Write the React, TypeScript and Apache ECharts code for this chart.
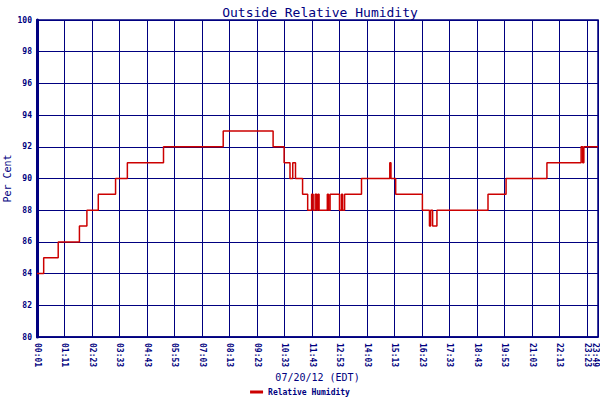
import React, { useEffect, useRef } from "react";
import * as echarts from "echarts";

// Step changes in relative humidity (time of change, new value in %)
const stepTimes = [
  "00:01", "00:18", "00:55", "01:49", "02:08", "02:37", "03:21", "03:51", "05:23", "07:55",
  "10:02", "10:30", "10:45", "10:52", "10:59", "11:17", "11:30", "11:40", "11:44", "11:49",
  "11:53", "11:56", "11:59", "12:20", "12:23", "12:27", "12:51", "12:56", "12:59", "13:04",
  "13:47", "14:59", "15:02", "15:14", "16:22", "16:40", "16:43", "16:48", "16:59", "19:09",
  "19:55", "21:39", "23:06", "23:10", "23:13", "23:49",
];
const humidity = [
  84, 85, 86, 87, 88, 89, 90, 91, 92, 93,
  92, 91, 90, 91, 90, 89, 88, 89, 88, 89,
  88, 89, 88, 89, 88, 89, 88, 89, 88, 89,
  90, 91, 90, 89, 88, 87, 88, 87, 88, 89,
  90, 91, 92, 91, 92, 92,
];
const xTickLabels = [
  "00:01", "01:11", "02:23", "03:33", "04:43", "05:53", "07:03", "08:13", "09:23", "10:33",
  "11:43", "12:53", "14:03", "15:13", "16:23", "17:33", "18:43", "19:53", "21:03", "22:13",
  "23:23", "23:49",
];
const yTicks = { min: 80, max: 100, step: 2 };

const NAVY = "#000080";
const MONO = "'DejaVu Sans Mono', 'Liberation Mono', monospace";

const toOffset = (t: string) => {
  const [h, m] = t.split(":").map(Number);
  return h * 60 + m - 1; // minutes since 00:01
};

export default function App() {
  const ref = useRef<HTMLDivElement>(null);
  useEffect(() => {
    if (!ref.current) return;
    const chart = echarts.init(ref.current, null, { renderer: "svg" });
    const maxOffset = toOffset(xTickLabels[xTickLabels.length - 1]);
    const data = stepTimes.map((t, i) => [toOffset(t), humidity[i]]);
    const labelFont = {
      color: NAVY,
      fontFamily: MONO,
      fontSize: 8,
      fontWeight: "bold",
    };
    chart.setOption({
      animation: false,
      backgroundColor: "#ffffff",
      title: {
        text: "Outside Relative Humidity",
        left: 315,
        textAlign: "center",
        top: 1,
        textStyle: { color: NAVY, fontFamily: MONO, fontSize: 13, fontWeight: "normal" },
      },
      grid: {
        left: 37,
        right: 2,
        top: 20,
        bottom: 63,
        outerBoundsMode: "none",
        containLabel: false,
        show: true,
        borderColor: NAVY,
        borderWidth: 1.5,
        backgroundColor: "transparent",
      },
      legend: {
        left: "center",
        top: 388,
        icon: "rect",
        itemWidth: 13,
        itemHeight: 3,
        padding: 0,
        textStyle: { color: NAVY, fontFamily: MONO, fontSize: 8, fontWeight: "bold" },
        data: ["Relative Humidity"],
      },
      xAxis: {
        type: "value",
        min: 0,
        max: maxOffset,
        interval: 70,
        name: "07/20/12 (EDT)",
        nameLocation: "middle",
        nameGap: 35,
        nameMoveOverlap: false,
        nameTextStyle: { color: NAVY, fontFamily: MONO, fontSize: 10 },
        axisLine: { show: true, lineStyle: { color: NAVY, width: 1.5 } },
        axisTick: { show: false },
        splitLine: { show: true, lineStyle: { color: NAVY, width: 1 } },
        axisLabel: {
          rotate: -90,
          margin: 6,
          ...labelFont,
          showMinLabel: true,
          showMaxLabel: true,
          formatter: (v: number) =>
            v >= maxOffset
              ? `{last|${xTickLabels[xTickLabels.length - 1]}}`
              : xTickLabels[Math.round(v / 70)] ?? "",
          rich: {
            last: { ...labelFont, padding: [6, 0, 0, 0] },
          },
        },
      },
      yAxis: {
        type: "value",
        min: yTicks.min,
        max: yTicks.max,
        interval: yTicks.step,
        name: "Per Cent",
        nameLocation: "middle",
        nameGap: 25,
        nameMoveOverlap: false,
        nameTextStyle: { color: NAVY, fontFamily: MONO, fontSize: 10 },
        axisLine: { show: true, lineStyle: { color: NAVY, width: 3 } },
        axisTick: { show: false },
        splitLine: { show: true, lineStyle: { color: NAVY, width: 1 } },
        axisLabel: {
          margin: 5,
          ...labelFont,
        },
      },
      series: [
        {
          name: "Relative Humidity",
          type: "line",
          step: "end",
          symbol: "none",
          data,
          color: "#cc0000",
          lineStyle: { color: "#cc0000", width: 1.5 },
        },
      ],
    });
    return () => chart.dispose();
  }, []);
  return <div ref={ref} style={{ width: 600, height: 400, position: "absolute", left: 0, top: 0 }} />;
}
